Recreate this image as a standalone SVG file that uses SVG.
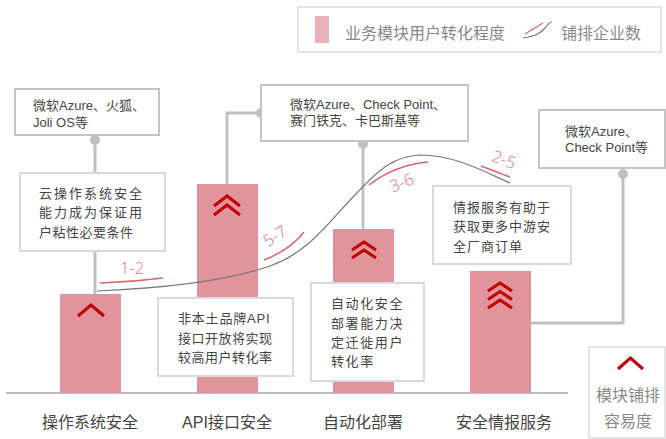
<svg xmlns="http://www.w3.org/2000/svg" width="666" height="439" viewBox="0 0 666 439">
<style>
.t{font-family:"Liberation Sans","Noto Sans CJK SC",sans-serif;fill:#444;font-size:13px}
.b1{fill:#fff;stroke:#c4c4c4;stroke-width:2}
.b2{fill:#fff;stroke:#dadada;stroke-width:2}
.bar{fill:#e1949b}
.chev{fill:none;stroke:#c00000;stroke-width:3}
.con{fill:none;stroke:#c0c0c0;stroke-width:3}
.dot{fill:#c0c0c0}
.ann{fill:none;stroke:#e0606e;stroke-width:1.5}
.an{font-family:"Open Sans","Liberation Sans",sans-serif;font-size:16.5px;fill:#e0707c;font-weight:300}
.cat{font-family:"Liberation Sans","Noto Sans CJK SC",sans-serif;font-size:16px;fill:#444;text-anchor:middle}
.lg{font-family:"Liberation Sans","Noto Sans CJK SC",sans-serif;font-size:16px;fill:#888}
</style>
<rect width="666" height="439" fill="#fff"/>

<g id="legend">
<rect x="298" y="7" width="363" height="45" fill="#fff" stroke="#ddd" stroke-width="1.5"/>
<rect x="315" y="16" width="14" height="27" fill="#e8b2b7"/>
<text class="lg" x="345" y="39">业务模块用户转化程度</text>
<path d="M523,38 C535,36 540,34 545,28 C548,24 550,22 552,22" fill="none" stroke="#777" stroke-width="1.2"/>
<path d="M525,34 L543,23" stroke="#e0606e" stroke-width="1.2"/>
<text class="lg" x="561" y="39">铺排企业数</text>
</g>

<g id="connectors">
<line class="con" x1="95" y1="140" x2="95" y2="173"/>
<line class="con" x1="95" y1="251" x2="95" y2="294"/>
<polyline class="con" points="227,184 227,113 261,113"/>
<line class="con" x1="363" y1="144" x2="363" y2="229"/>
<polyline class="con" points="623,174 623,323 531,323"/>
<circle class="dot" cx="95" cy="140" r="5"/>
<circle class="dot" cx="261" cy="113" r="5"/>
<circle class="dot" cx="363" cy="144" r="5"/>
<circle class="dot" cx="623" cy="174" r="5"/>
</g>

<g id="axis">
<line x1="6" y1="393" x2="568" y2="393" stroke="#bbb" stroke-width="2"/>
</g>

<g id="bar1">
<rect class="bar" x="60" y="294" width="61" height="99"/>
<polyline class="chev" points="78,316 91,305 104,316"/>
<text class="cat" x="90" y="428">操作系统安全</text>
</g>
<g id="bar2">
<rect class="bar" x="197" y="184" width="61" height="209"/>
<polyline class="chev" points="214,206 227,196 240,206"/>
<polyline class="chev" points="214,215 227,205 240,215"/>
<text class="cat" x="227" y="428">API接口安全</text>
</g>
<g id="bar3">
<rect class="bar" x="333" y="229" width="61" height="164"/>
<polyline class="chev" points="352,250 364,242 376,250"/>
<polyline class="chev" points="352,258 364,250 376,258"/>
<text class="cat" x="363" y="428">自动化部署</text>
</g>
<g id="bar4">
<rect class="bar" x="470" y="271" width="61" height="122"/>
<polyline class="chev" points="488,291 500,283 512,291"/>
<polyline class="chev" points="488,299.5 500,291.5 512,299.5"/>
<polyline class="chev" points="488,308 500,300 512,308"/>
<text class="cat" x="504" y="428">安全情报服务</text>
</g>

<g id="curve">
<path d="M97,291 C170,288 230,280 270,266 C310,252 330,220 355,195 C380,168 395,156 420,155 C455,155 485,172 510,183" fill="none" stroke="#777" stroke-width="1.2"/>
<path class="ann" d="M100,283 Q132,282 163,278"/>
<text class="an" x="132" y="274" text-anchor="middle">1-2</text>
<path class="ann" d="M264,260 Q290,250 304,232"/>
<text class="an" x="278" y="241" text-anchor="middle" transform="rotate(-32 278 241)">5-7</text>
<path class="ann" d="M369,185 Q395,165 428,162"/>
<text class="an" x="404" y="188" text-anchor="middle" transform="rotate(-22 404 188)">3-6</text>
<path class="ann" d="M481,166 L510,177"/>
<text class="an" x="502" y="165" text-anchor="middle" transform="rotate(20 502 165)">2-5</text>
</g>

<g id="boxA">
<rect class="b1" x="15" y="89" width="144" height="46"/>
<text class="t" x="33" y="110">微软Azure、火狐、</text>
<text class="t" x="33" y="127">Joli OS等</text>
</g>
<g id="boxB">
<rect class="b2" x="20" y="173" width="145" height="78"/>
<text class="t" x="39" y="198" letter-spacing="2">云操作系统安全</text>
<text class="t" x="39" y="217" letter-spacing="2">能力成为保证用</text>
<text class="t" x="39" y="237" letter-spacing="0.5">户粘性必要条件</text>
</g>
<g id="boxC">
<rect class="b1" x="261" y="85" width="207" height="56"/>
<text class="t" x="290" y="109">微软Azure、Check  Point、</text>
<text class="t" x="290" y="125">赛门铁克、卡巴斯基等</text>
</g>
<g id="boxD">
<rect class="b2" x="433" y="186" width="138" height="78"/>
<text class="t" x="453" y="212" letter-spacing="1">情报服务有助于</text>
<text class="t" x="453" y="231" letter-spacing="1">获取更多中游安</text>
<text class="t" x="453" y="251" letter-spacing="1">全厂商订单</text>
</g>
<g id="boxE">
<rect class="b1" x="539" y="110" width="126" height="58"/>
<text class="t" x="565" y="136" font-size="12.5">微软Azure、</text>
<text class="t" x="565" y="152" font-size="12.5">Check Point等</text>
</g>
<g id="boxF">
<rect class="b2" x="158" y="298" width="135" height="78"/>
<text class="t" x="178" y="323" letter-spacing="0.8">非本土品牌API</text>
<text class="t" x="178" y="343" letter-spacing="0.5">接口开放将实现</text>
<text class="t" x="178" y="362" letter-spacing="0.5">较高用户转化率</text>
</g>
<g id="boxG">
<rect class="b2" x="311" y="283" width="113" height="98"/>
<text class="t" x="331" y="308" letter-spacing="1.6">自动化安全</text>
<text class="t" x="331" y="328" letter-spacing="1.6">部署能力决</text>
<text class="t" x="331" y="347" letter-spacing="1.6">定迁徙用户</text>
<text class="t" x="331" y="366" letter-spacing="1.6">转化率</text>
</g>

<g id="legend2">
<rect x="589" y="347" width="76" height="91" fill="#fff" stroke="#ddd" stroke-width="1.5"/>
<polyline class="chev" points="618,369 630.5,358 643,369"/>
<text class="lg" x="628" y="401" text-anchor="middle" fill="#999">模块铺排</text>
<text class="lg" x="628" y="427" text-anchor="middle" fill="#999">容易度</text>
</g>
</svg>
